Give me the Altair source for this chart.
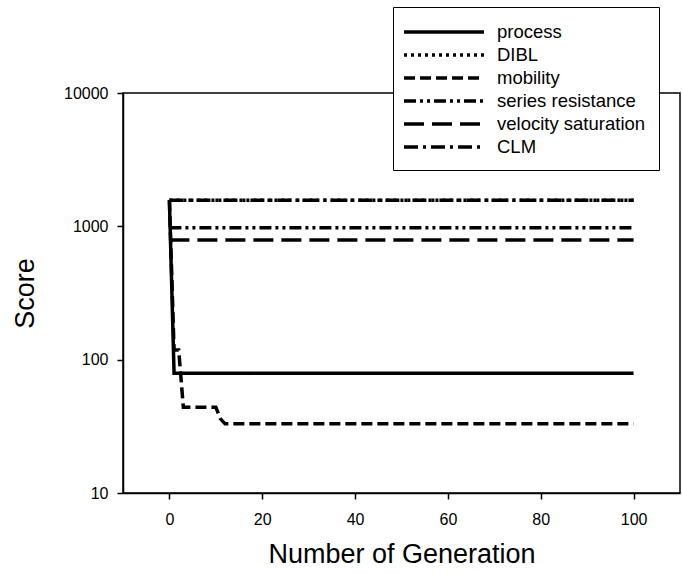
import altair as alt
import pandas as pd

# ---- data ----
series_names = ["process", "DIBL", "mobility", "series resistance",
                "velocity saturation", "CLM"]

gen_process = [0, 1, 100]
score_process = [1570, 79, 79]

gen_dibl = [0, 100]
score_dibl = [1570, 1570]

gen_mobility = [0, 1, 2, 3, 10, 11, 12, 100]
score_mobility = [1570, 118, 118, 44, 44, 36, 33, 33]

gen_series = [0, 100]
score_series = [977, 977]

gen_velocity = [0, 100]
score_velocity = [789, 789]

gen_clm = [0, 100]
score_clm = [1570, 1570]

x_ticks = [0, 20, 40, 60, 80, 100]
y_ticks = [10, 100, 1000, 10000]

dash_patterns = [[1, 0], [3, 4], [11, 5], [12, 4, 3, 4, 3, 4], [20, 8], [14, 5, 3, 5]]

rows = []
for name, gx, sy in [
    ("DIBL", gen_dibl, score_dibl),
    ("process", gen_process, score_process),
    ("mobility", gen_mobility, score_mobility),
    ("series resistance", gen_series, score_series),
    ("velocity saturation", gen_velocity, score_velocity),
    ("CLM", gen_clm, score_clm),
]:
    for g, s in zip(gx, sy):
        rows.append({"series": name, "gen": g, "score": s})
df = pd.DataFrame(rows)

FONT = "Liberation Sans"

chart = alt.Chart(df).mark_line(color="black", strokeWidth=3.5, clip=True).encode(
    x=alt.X("gen:Q",
            scale=alt.Scale(domain=[-10, 110], nice=False, zero=False),
            axis=alt.Axis(values=x_ticks, title="Number of Generation",
                          grid=False, labelPadding=12, labelFontSize=16,
                          labelFont=FONT, labelColor="black",
                          titleFont=FONT, titleColor="black",
                          titleFontSize=27, titleFontWeight="normal",
                          titleY=69, titleBaseline="alphabetic")),
    y=alt.Y("score:Q",
            scale=alt.Scale(type="log", domain=[10, 10000], nice=False),
            axis=alt.Axis(values=y_ticks, format="d", title="Score",
                          grid=False, labelPadding=9, labelFontSize=16,
                          labelFont=FONT, labelColor="black",
                          titleFont=FONT, titleColor="black",
                          titleFontSize=27, titleFontWeight="normal",
                          titleAngle=-90, titleX=-90, titleY=200,
                          titleAlign="center", titleBaseline="alphabetic")),
    strokeDash=alt.StrokeDash(
        "series:N",
        scale=alt.Scale(domain=series_names, range=dash_patterns),
        legend=alt.Legend(
            title=None, orient="none", legendX=270, legendY=-86,
            symbolType="M-1.4,0H6.6", symbolSize=400,
            symbolStrokeWidth=3.5, symbolStrokeColor="black",
            labelOffset=67, labelFontSize=18.5, labelFont=FONT,
            labelColor="black", rowPadding=1, padding=13,
            strokeColor="black", fillColor="white",
        ),
    ),
    detail="series:N",
).properties(
    width=557, height=400,
    padding={"left": 123, "top": 93, "right": 2, "bottom": 81},
    autosize=alt.AutoSizeParams(type="none"),
    background="white",
).configure_view(
    stroke="black", strokeWidth=1.5
).configure_axis(
    labelFont=FONT, titleFont=FONT, labelFontSize=16, labelColor="black",
    titleColor="black", domainColor="black", domainWidth=1.5,
    tickColor="black", tickWidth=1.5, tickSize=6,
)

chart.save("out.html", embed_options={"renderer": "svg", "actions": False})
